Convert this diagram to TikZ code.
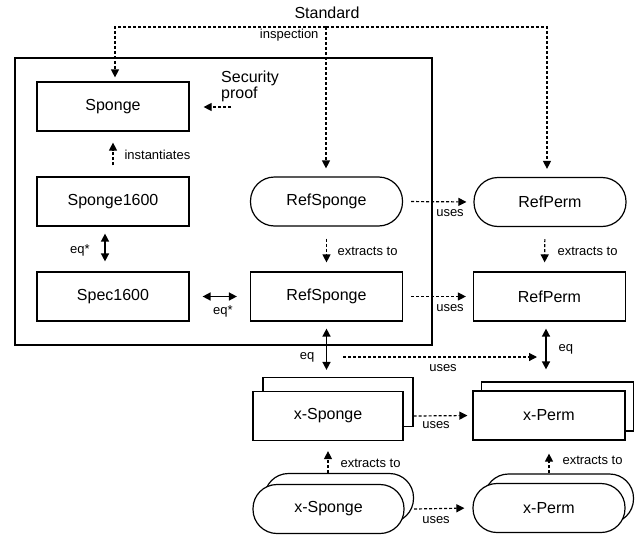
\documentclass[tikz,border=0pt]{standalone}
\usepackage{fontspec}
\setmainfont{Liberation Sans}
\usetikzlibrary{arrows.meta}
\tikzset{
  big/.style={font=\fontsize{16}{19}\selectfont},
  small/.style={font=\fontsize{13}{15}\selectfont},
  box/.style={draw, line width=1.2pt, fill=white, minimum width=152pt, minimum height=49pt, inner sep=0pt, big},
  rbox/.style={box, rounded corners=24pt},
  tip/.style={-{Triangle[length=8pt,width=8pt]}},
  dtip/.style={{Triangle[length=8pt,width=8pt]}-{Triangle[length=8pt,width=8pt]}},
  dline/.style={line width=1.2pt, dash pattern=on 3pt off 2pt},
  darrow/.style={dline, tip},
  eqarrow/.style={line width=1.5pt, dtip},
}
\begin{document}
\begin{tikzpicture}[x=1pt,y=-1pt]
\useasboundingbox (0,0) rectangle (639,535);
% enclosing box
\draw[line width=1.2pt] (15,58) rectangle (432,345);
% nodes
\node[box] (sponge) at (113,106.5) {Sponge};
\node[box] (sp1600) at (113,201.5) {Sponge1600};
\node[box] (spec) at (113,296.5) {Spec1600};
\node[rbox] (refsr) at (326.5,201.5) {RefSponge};
\node[box] (refsb) at (326.5,296.5) {RefSponge};
\node[rbox] (refpr) at (550,202) {RefPerm};
\node[box] (refpb) at (549.5,296.5) {RefPerm};
% stacks
\node[box, minimum width=150pt] (xspb) at (338,402) {};
\node[box, minimum width=150pt] (xsp) at (328,416) {x-Sponge};
\node[box] (xpmb) at (557.5,406.5) {};
\node[box] (xpm) at (549,415.5) {x-Perm};
\node[rbox, minimum width=149pt] (xsrb) at (339,498) {};
\node[rbox, minimum width=151pt] (xsr) at (328.5,509) {x-Sponge};
\node[rbox, minimum width=149pt] (xprb) at (559,498.5) {};
\node[rbox] (xpr) at (549,508) {x-Perm};
% Standard inspection
\node[big] (std) at (327,13) {Standard};
\coordinate (stdj) at (326,27);
\draw[darrow, shorten >=4pt] (stdj) -| ([xshift=2pt]sponge.north);
\draw[darrow, shorten >=8pt] (stdj) -- (stdj |- refsr.north);
\draw[darrow, shorten >=8pt] (stdj) -| ([xshift=-3pt]refpr.north);
\node[small, anchor=east] (insp) at (322,35) {inspection};
% security proof
\node[big, anchor=west, align=left, inner sep=0pt, font=\fontsize{16}{16}\selectfont] (sec) at (221,86) {Security\\proof};
\coordinate (secs) at (231,107);
\draw[darrow, shorten >=14pt] (secs) -- (secs -| sponge.east);
% instantiates
\draw[darrow, shorten <=11pt, shorten >=11pt] (sp1600.north) -- (sponge.south);
\node[small, anchor=west] (inst) at (121,155) {instantiates};
% eq* vertical
\draw[eqarrow, shorten <=7pt, shorten >=10pt] ([xshift=-8pt]sp1600.south) -- ([xshift=-8pt]spec.north);
\node[small] (eqs1) at (80,250) {eq*};
% eq* horizontal
\draw[eqarrow, shorten <=13pt, shorten >=13pt] (spec.east) -- (refsb.west);
\node[small] (eqs2) at (223,311) {eq*};
% extracts RefSponge
\draw[darrow, shorten <=12pt, shorten >=9pt] (refsr.south) -- (refsb.north);
\node[small, anchor=west] (ex1) at (334,251) {extracts to};
% extracts RefPerm
\draw[darrow, shorten <=12pt, shorten >=9pt] ([xshift=-5pt]refpr.south) -- ([xshift=-5pt]refpb.north);
\node[small, anchor=west] (ex2) at (554,251) {extracts to};
% uses rows
\draw[darrow, shorten <=8pt, shorten >=7pt] (refsr.east) -- (refpr.west);
\node[small] (u1) at (450,213) {uses};
\draw[darrow, shorten <=8pt, shorten >=7pt] (refsb.east) -- (refpb.west);
\node[small] (u2) at (450,308) {uses};
% eq verticals
\draw[eqarrow, shorten <=7pt, shorten >=7pt] (refsb.south) -- (refsb.south |- xspb.north);
\node[small] (eq1) at (307,357) {eq};
\draw[eqarrow, shorten <=7pt, shorten >=12pt] ([xshift=-3.5pt]refpb.south) -- ([xshift=-3.5pt]refpb.south |- xpmb.north);
\node[small, anchor=west] (eq2) at (555,349) {eq};
% uses between eq arrows
\coordinate (ua) at (343,357);
\coordinate (ub) at (537,357);
\draw[darrow] (ua) -- (ub);
\node[small] (u3) at (443,368) {uses};
% x-level uses
\draw[darrow, shorten >=5pt] (xsp.east -| xspb.east) -- (xpm.west);
\node[small] (u4) at (436,425) {uses};
\draw[darrow, shorten >=8pt] (xsr.east -| xsrb.east) -- (xpr.west);
\node[small] (u5) at (436,520) {uses};
% extracts bottom
\draw[darrow, shorten >=10pt] (xsp.south |- xsrb.north) -- (xsp.south);
\node[small, anchor=west] (ex3) at (337,463) {extracts to};
\draw[darrow, shorten >=13pt] (xpm.south |- xprb.north) -- (xpm.south);
\node[small, anchor=west] (ex4) at (559,460) {extracts to};
\end{tikzpicture}
\end{document}
